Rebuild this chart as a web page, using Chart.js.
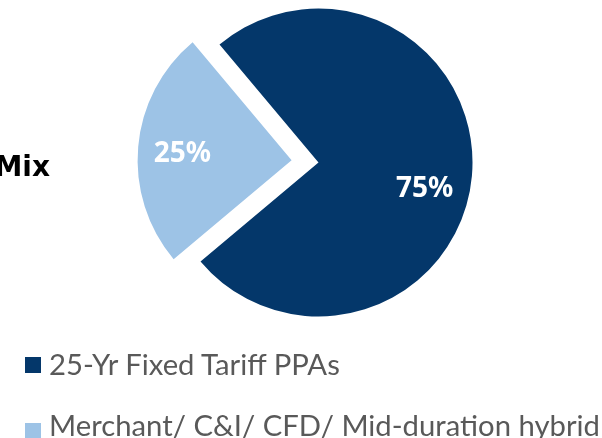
<!DOCTYPE html>
<html>
<head>
<meta charset="utf-8">
<script src="https://cdn.jsdelivr.net/npm/chart.js@4/dist/chart.umd.min.js"></script>
<style>
  html, body { margin: 0; padding: 0; background: #fff; }
  #wrap { position: relative; width: 602px; height: 438px; overflow: hidden; }
  #c { position: absolute; left: 0; top: 0; }
  #mix { position: absolute; right: 552px; top: 150px; font: bold 28px "DejaVu Sans"; color: #000; white-space: nowrap; }
  .sw { position: absolute; left: 25px; width: 16px; height: 16px; }
  .lt { position: absolute; left: 49px; white-space: nowrap; font: 28px Lato; line-height: 28px; color: #595959;
        transform: scaleX(1.045); transform-origin: 0 0; }
</style>
</head>
<body>
<div id="wrap">
  <canvas id="c" width="602" height="438"></canvas>
  <div id="mix">Mix</div>
  <div id="legend"></div>
</div>
<script>
const categories = ["25-Yr Fixed Tariff PPAs", "Merchant/ C&I/ CFD/ Mid-duration hybrid"];
const shares = [75, 25];
const valueLabels = ["75%", "25%"];
const colors = ["#04376A", "#9DC3E6"];

// legend built from the same arrays
const legend = document.getElementById('legend');
const swatchTops = [357, 423];
const textTops = [350, 411];
categories.forEach((name, i) => {
  const sw = document.createElement('div');
  sw.className = 'sw';
  sw.style.top = swatchTops[i] + 'px';
  sw.style.background = colors[i];
  legend.appendChild(sw);
  const t = document.createElement('div');
  t.className = 'lt';
  t.style.top = textTops[i] + 'px';
  t.textContent = name;
  legend.appendChild(t);
});

const labelNudgeDeg = [9, -2];
const labelPlugin = {
  id: 'sliceLabels',
  afterDatasetsDraw(chart) {
    const ctx = chart.ctx;
    const meta = chart.getDatasetMeta(0);
    ctx.save();
    ctx.fillStyle = '#ffffff';
    ctx.font = 'bold 28px "Noto Sans"';
    ctx.textAlign = 'center';
    ctx.textBaseline = 'middle';
    meta.data.forEach((arc, i) => {
      const p = arc.getProps(['x', 'y', 'startAngle', 'endAngle', 'outerRadius']);
      const mid = (p.startAngle + p.endAngle) / 2;
      const off = (arc.options.offset || 0) / 4; // Chart.js draws arcs shifted by offset/4
      const cx = p.x + Math.cos(mid) * off;
      const cy = p.y + Math.sin(mid) * off;
      const a = mid + labelNudgeDeg[i] * Math.PI / 180;
      const r = p.outerRadius * 0.71;
      ctx.fillText(valueLabels[i], cx + Math.cos(a) * r, cy + Math.sin(a) * r);
    });
    ctx.restore();
  }
};

new Chart(document.getElementById('c'), {
  type: 'pie',
  data: {
    labels: categories,
    datasets: [{
      data: shares,
      backgroundColor: colors,
      borderWidth: 0,
      offset: [0, 108],
      hoverOffset: 0
    }]
  },
  options: {
    responsive: false,
    animation: false,
    rotation: -40,
    radius: 154,
    layout: { padding: { left: 35, right: 0, top: 0, bottom: 113 } },
    plugins: { legend: { display: false }, tooltip: { enabled: false } },
    events: []
  },
  plugins: [labelPlugin]
});
</script>
</body>
</html>
